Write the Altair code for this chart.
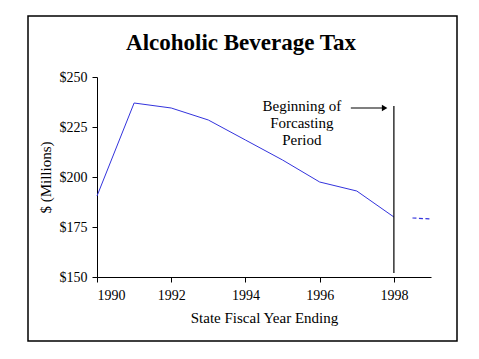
import altair as alt
import pandas as pd

years = [1990, 1991, 1992, 1993, 1994, 1995, 1996, 1997, 1998]
revenue = [190.5, 237, 234.5, 228.5, 218.5, 208.5, 197.5, 193, 180]
forecast_years = [1998.5, 1999]
forecast_vals = [179.5, 179]
tick_years = list(range(1990, 2000))
y_ticks = [150, 175, 200, 225, 250]
note_lines = ["Beginning of", "Forcasting", "Period"]

FONT = "Liberation Serif"
BLUE = "#3333dd"

hist = pd.DataFrame({"year": years, "value": revenue})
fc = pd.DataFrame({"year": forecast_years, "value": forecast_vals})

xscale = alt.Scale(domain=[1990, 1999], nice=False, zero=False)
yscale = alt.Scale(domain=[150, 250], nice=False, zero=False)

x_enc = alt.X("year:Q", scale=xscale, axis=alt.Axis(
    values=tick_years, labelExpr="datum.value % 2 == 0 ? datum.value : ''",
    format="d", grid=False, title="State Fiscal Year Ending",
    domainColor="black", tickColor="black", tickSize=5,
    labelFont=FONT, labelFontSize=14, labelColor="black", labelPadding=6,
    titleFont=FONT, titleFontSize=15, titleFontWeight="normal", titleColor="black",
    titlePadding=8))
y_enc = alt.Y("value:Q", scale=yscale, axis=alt.Axis(
    values=y_ticks, format="$d", grid=False, title="$ (Millions)",
    domainColor="black", tickColor="black", tickSize=5,
    labelFont=FONT, labelFontSize=14, labelColor="black", labelPadding=5,
    titleFont=FONT, titleFontSize=15, titleFontWeight="normal", titleColor="black",
    titlePadding=6))

line = alt.Chart(hist).mark_line(color=BLUE, strokeWidth=1).encode(x=x_enc, y=y_enc)
fline = alt.Chart(fc).mark_line(color=BLUE, strokeWidth=1.2, strokeDash=[4, 2.5]).encode(
    x="year:Q", y="value:Q")

base = alt.Chart(pd.DataFrame({"a": [0]}))

border = base.mark_rect(fill=None, stroke="black", strokeWidth=1.5, clip=False).encode(
    x=alt.value(-69), x2=alt.value(360), y=alt.value(-61), y2=alt.value(264))

title = base.mark_text(font=FONT, fontSize=23, fontWeight="bold", color="black",
                       align="center", baseline="middle").encode(
    x=alt.value(144), y=alt.value(-34), text=alt.value("Alcoholic Beverage Tax"))

vrule = base.mark_rule(color="black", strokeWidth=1.2).encode(
    x=alt.datum(1998), y=alt.datum(235.5), y2=alt.datum(152))
arrow = base.mark_rule(color="black", strokeWidth=1.2).encode(
    x=alt.datum(1996.84), x2=alt.datum(1997.7), y=alt.datum(234.5))
head = base.mark_point(shape="triangle-right", filled=True, color="black", size=40, opacity=1).encode(
    x=alt.datum(1997.75), y=alt.datum(234.5))

note = base.mark_text(font=FONT, fontSize=15, color="black", align="center",
                      baseline="middle", lineHeight=17, lineBreak="\n").encode(
    x=alt.datum(1995.52), y=alt.datum(235.5), text=alt.value("\n".join(note_lines)))

chart = alt.layer(border, title, line, fline, vrule, arrow, head, note).properties(
    width=334, height=200,
    background="white",
    autosize=alt.AutoSizeParams(type="none"),
    padding={"left": 89, "top": 69, "right": 40, "bottom": 74},
).configure_view(strokeWidth=0, stroke="transparent")

chart.save("out.html", embed_options={"renderer": "svg", "actions": False})
